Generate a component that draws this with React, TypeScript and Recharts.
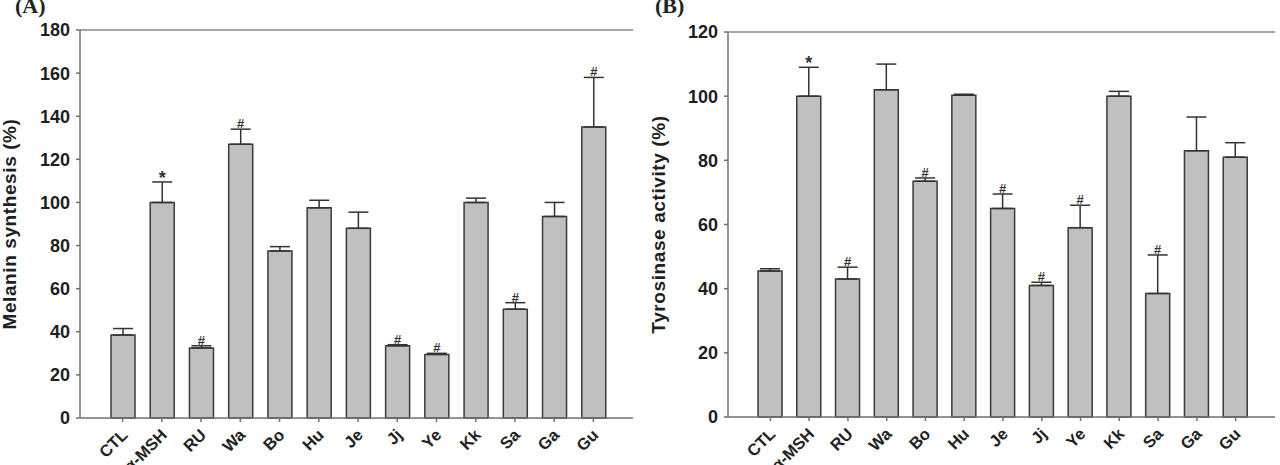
import React from 'react'
import { BarChart, Bar, XAxis, YAxis, ErrorBar, LabelList, ReferenceLine } from 'recharts'

const groups = ['CTL', 'α-MSH', 'RU', 'Wa', 'Bo', 'Hu', 'Je', 'Jj', 'Ye', 'Kk', 'Sa', 'Ga', 'Gu']

// (A) melanin content, % of α-MSH
const melanin = [38.5, 100, 32.5, 127, 77.5, 97.5, 88, 33.5, 29.5, 100, 50.5, 93.5, 135]
const melaninErr = [3, 9.5, 1, 7, 2, 3.5, 7.5, 0.5, 0.5, 2, 3, 6.5, 23]
const melaninSig = ['', '*', '#', '#', '', '', '', '#', '#', '', '#', '', '#']
const melaninTicks = [0, 20, 40, 60, 80, 100, 120, 140, 160, 180]

// (B) tyrosinase activity, % of α-MSH
const tyrosinase = [45.5, 100, 43, 102, 73.5, 100.3, 65, 41, 59, 100, 38.5, 83, 81]
const tyrosinaseErr = [0.7, 9, 3.7, 8, 1, 0.3, 4.5, 1, 7, 1.5, 12, 10.5, 4.5]
const tyrosinaseSig = ['', '*', '#', '', '#', '', '#', '#', '#', '', '#', '', '']
const tyrosinaseTicks = [0, 20, 40, 60, 80, 100, 120]

const FONT = '"Liberation Sans", Arial, sans-serif'
const AXIS = '#707070'
const FRAME = '#8a8a8a'

const SlantTick = ({ x, y, payload }: any) => (
  <g transform={`translate(${x + 6},${y + 12}) rotate(-45)`}>
    <text x={0} y={0} textAnchor='end' fontFamily={FONT} fontWeight='bold' fontSize={16.5} fill='#222'>
      {payload.value}
    </text>
  </g>
)

interface PanelProps {
  values: number[]
  errs: number[]
  marks: string[]
  ticks: number[]
  title: string
  titleX: number
  panel: string
  left: number
  yWidth: number
  top: number
  right: number
  xHeight: number
}

const Panel = ({ values, errs, marks, ticks, title, titleX, panel, left, yWidth, top, right, xHeight }: PanelProps) => {
  const data = groups.map((g, i) => ({ name: g, value: values[i], err: [0, errs[i]] }))
  const yMax = ticks[ticks.length - 1]
  const plotMid = top + (465 - xHeight - top) / 2

  return (
    <div style={{ position: 'absolute', left, top: 0, width: 640, height: 465 }}>
      <div
        style={{
          position: 'absolute',
          left: 15,
          top: -7,
          fontFamily: '"Liberation Serif", "Times New Roman", serif',
          fontWeight: 'bold',
          fontSize: 22,
          color: '#222'
        }}
      >
        {panel}
      </div>
      <BarChart width={640} height={465} data={data} margin={{ top, right, bottom: 0, left: 0 }}>
        <XAxis
          dataKey='name'
          type='category'
          height={xHeight}
          padding={{ left: 23, right: 20 }}
          axisLine={{ stroke: AXIS, strokeWidth: 1.5 }}
          tickLine={{ stroke: AXIS, strokeWidth: 1.5 }}
          tickSize={4}
          interval={0}
          tick={<SlantTick />}
        />
        <YAxis
          yAxisId='main'
          type='number'
          width={yWidth}
          domain={[0, yMax]}
          ticks={ticks}
          interval={0}
          tickSize={4}
          tickMargin={6}
          axisLine={{ stroke: AXIS, strokeWidth: 1.5 }}
          tickLine={{ stroke: AXIS, strokeWidth: 1.5 }}
          tick={{ fontFamily: FONT, fontWeight: 'bold', fontSize: 18, fill: '#1e1e1e' }}
          label={{
            content: () => (
              <text
                transform={`translate(${titleX},${plotMid}) rotate(-90)`}
                textAnchor='middle'
                fontFamily={FONT}
                fontWeight='bold'
                fontSize={19}
                letterSpacing={0.6}
                fill='#1e1e1e'
              >
                {title}
              </text>
            )
          }}
        />
        <YAxis
          yAxisId='frame'
          orientation='right'
          width={0}
          domain={[0, yMax]}
          tick={false}
          tickLine={false}
          axisLine={{ stroke: FRAME, strokeWidth: 1.5 }}
        />
        <ReferenceLine yAxisId='main' y={yMax} stroke={FRAME} strokeWidth={1.5} />
        <Bar
          yAxisId='main'
          dataKey='value'
          barSize={24}
          fill='#c0c0c0'
          stroke='#3a3a3a'
          strokeWidth={1.5}
          isAnimationActive={false}
        >
          <ErrorBar dataKey='err' width={10} stroke='#333' strokeWidth={1.5} direction='y' />
          <LabelList
            dataKey='name'
            content={(p: any) => {
              const i = p.index
              const mark = marks[i]
              if (!mark) return null
              const errTop = p.y - (errs[i] * p.height) / values[i]
              const star = mark === '*'
              return (
                <text
                  x={p.x + p.width / 2}
                  y={star ? errTop + 2 : errTop - 1}
                  textAnchor='middle'
                  fontFamily={FONT}
                  fontWeight='bold'
                  fontSize={star ? 18 : 13}
                  fill='#333'
                >
                  {mark}
                </text>
              )
            }}
          />
        </Bar>
      </BarChart>
    </div>
  )
}

const App = () => (
  <div style={{ position: 'absolute', left: 0, top: 0, width: 1280, height: 465, background: '#fff', overflow: 'hidden' }}>
    <Panel
      values={melanin}
      errs={melaninErr}
      marks={melaninSig}
      ticks={melaninTicks}
      title='Melanin synthesis (%)'
      titleX={16}
      panel='(A)'
      left={0}
      yWidth={80}
      top={30}
      right={7}
      xHeight={47}
    />
    <Panel
      values={tyrosinase}
      errs={tyrosinaseErr}
      marks={tyrosinaseSig}
      ticks={tyrosinaseTicks}
      title='Tyrosinase activity (%)'
      titleX={25}
      panel='(B)'
      left={640}
      yWidth={88}
      top={32}
      right={5}
      xHeight={48}
    />
  </div>
)

export default App
